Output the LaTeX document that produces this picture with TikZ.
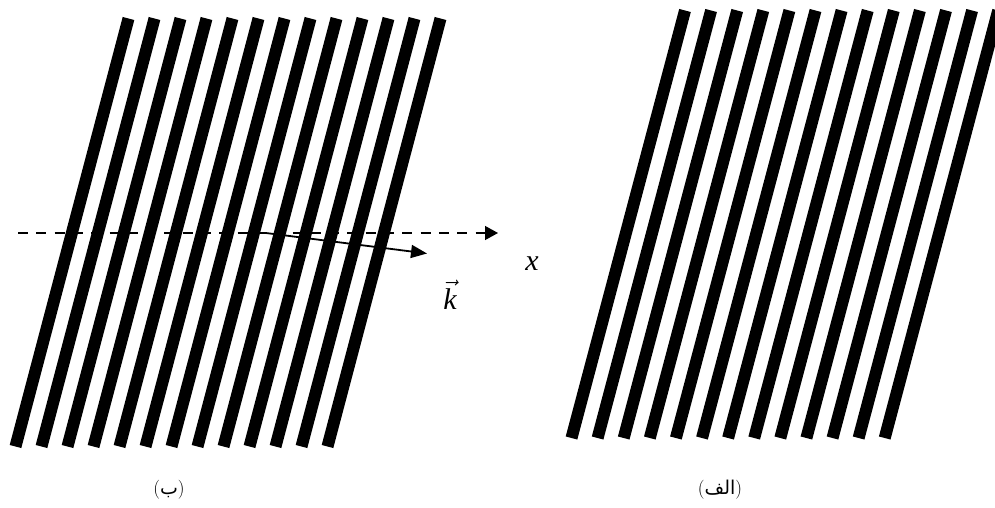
\documentclass[tikz,border=0pt]{standalone}
\usepackage{fix-cm}
\usepackage{fontspec}
\newfontfamily\arabicfont[Script=Arabic]{DejaVu Sans}
\newfontfamily\serifit{Liberation Serif}
\TeXXeTstate=1
\usetikzlibrary{arrows.meta}
\tikzset{
  stripe/.style={line width=12pt, line cap=butt},
  axisline/.style={line width=1.3pt, dash pattern=on 10pt off 8.3pt, -{Triangle[length=13pt,width=14pt]}},
  kvec/.style={line width=1.8pt, -{Triangle[length=16pt,width=13pt]}},
  lbl/.style={inner sep=0pt, font=\fontsize{30}{36}\selectfont},
  captext/.style={inner sep=0pt, font=\fontsize{19}{22}\selectfont}
}
\begin{document}
\begin{tikzpicture}[x=1pt,y=-1pt]
\useasboundingbox (0,0) rectangle (995,508);
\begin{scope}
\clip (0,0) rectangle (995,508);
% left panel (b)
\foreach \i in {0,...,12}{
  \draw[stripe] ({128.5+26*\i},18.5) -- ({15.5+26*\i},446.5);
}
% right panel (alef)
\foreach \i in {0,...,12}{
  \draw[stripe] ({685+26.1*\i},10.5) -- ({571.5+26.1*\i},438);
}
\end{scope}
\coordinate (xs) at (18,233);
\coordinate (xe) at (498,233);
\coordinate (ks) at (266,233);
\coordinate (ke) at (427,253.5);
\draw[axisline] (xs) -- (xe);
\draw[kvec] (ks) -- (ke);
\node[lbl] (xlab) at (532,264) {\serifit\itshape x};
\node[lbl] (klab) at (450,295) {$\vec{\hbox{\serifit\itshape k}}$};
\node[captext] (capb) at (169,490) {(\hbox{\arabicfont\beginR ب\endR})};
\node[captext] (capa) at (720,490) {(\hbox{\arabicfont\beginR الف\endR})};
\end{tikzpicture}
\end{document}
